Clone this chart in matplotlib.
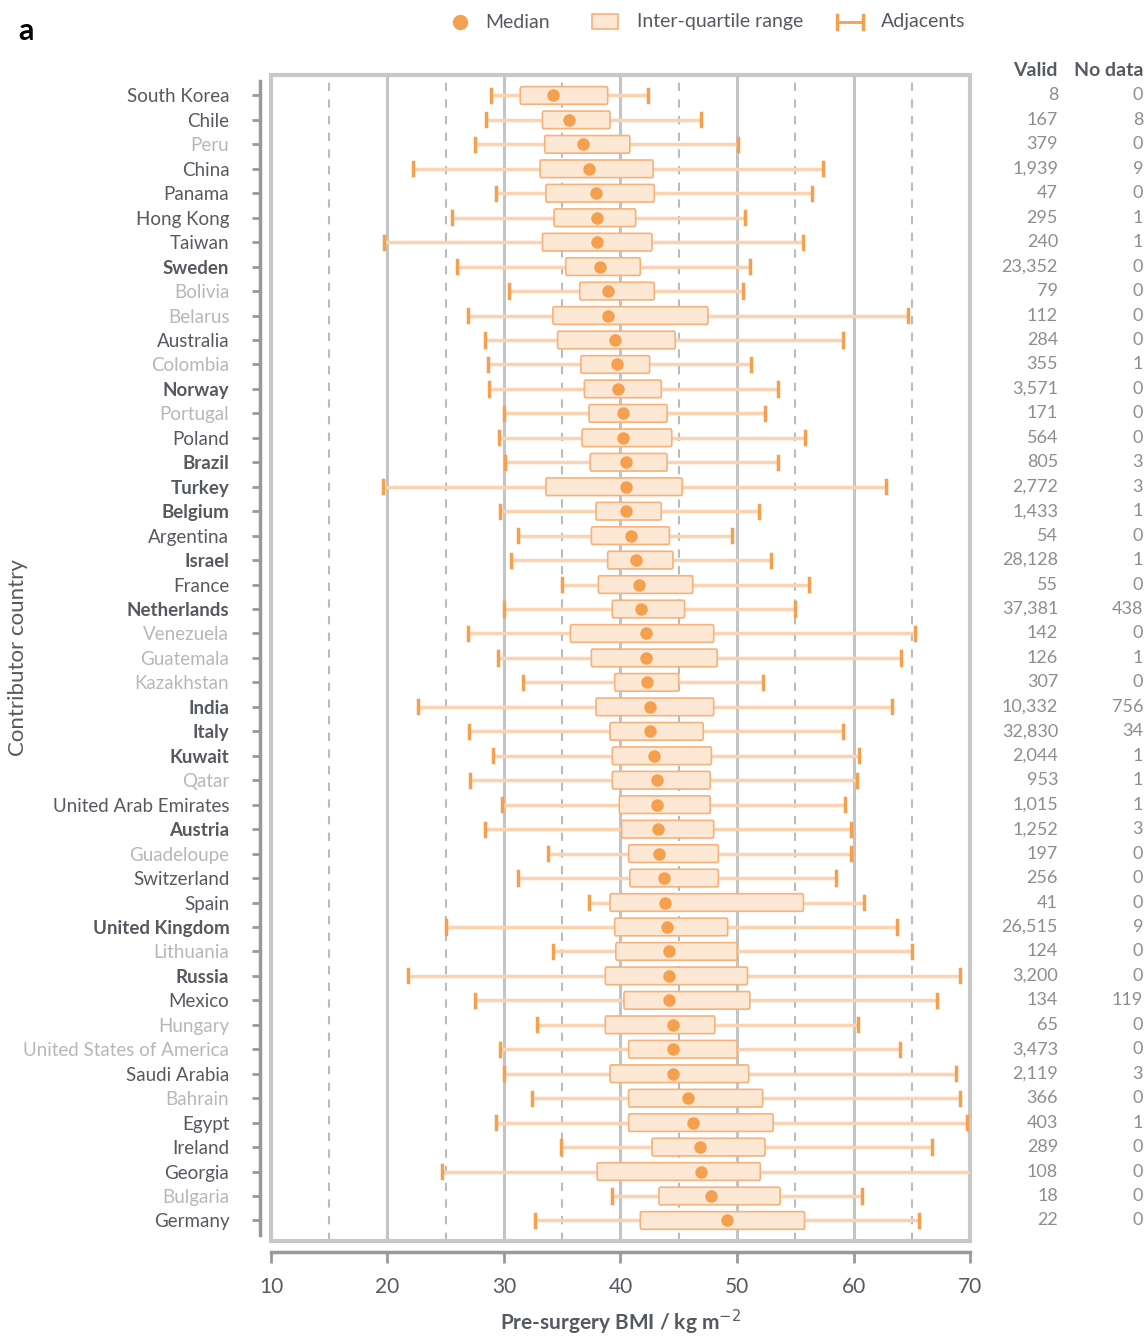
import matplotlib
matplotlib.use("Agg")
import matplotlib.pyplot as plt
from matplotlib.patches import Rectangle, FancyBboxPatch
from matplotlib.lines import Line2D

countries = ["South Korea","Chile","Peru","China","Panama","Hong Kong","Taiwan","Sweden","Bolivia","Belarus",
 "Australia","Colombia","Norway","Portugal","Poland","Brazil","Turkey","Belgium","Argentina","Israel",
 "France","Netherlands","Venezuela","Guatemala","Kazakhstan","India","Italy","Kuwait","Qatar","United Arab Emirates",
 "Austria","Guadeloupe","Switzerland","Spain","United Kingdom","Lithuania","Russia","Mexico","Hungary","United States of America",
 "Saudi Arabia","Bahrain","Egypt","Ireland","Georgia","Bulgaria","Germany"]
low = [28.9,28.5,27.5,22.2,29.3,25.5,19.7,26.0,30.4,26.9,28.4,28.6,28.7,30.0,29.6,30.1,19.6,29.7,31.2,30.6,
 35.0,30.0,26.9,29.5,31.6,22.6,27.0,29.1,27.1,29.8,28.4,33.8,31.2,37.3,25.0,34.2,21.8,27.5,32.8,29.7,
 30.0,32.4,29.3,34.9,24.7,39.3,32.7]
q1 = [31.4,33.3,33.5,33.1,33.6,34.3,33.3,35.3,36.5,34.2,34.6,36.6,36.9,37.3,36.7,37.4,33.6,37.9,37.5,38.9,
 38.1,39.3,35.7,37.5,39.5,37.9,39.1,39.3,39.3,39.9,40.1,40.7,40.8,39.1,39.5,39.6,38.7,40.3,38.7,40.7,
 39.1,40.7,40.7,42.7,38.0,43.3,41.7]
med = [34.2,35.6,36.8,37.3,37.9,38.0,38.0,38.2,38.9,38.9,39.5,39.7,39.8,40.2,40.2,40.5,40.5,40.5,40.9,41.3,
 41.6,41.8,42.2,42.2,42.3,42.5,42.5,42.9,43.1,43.1,43.2,43.3,43.7,43.8,44.0,44.2,44.2,44.2,44.5,44.5,
 44.5,45.8,46.2,46.8,46.9,47.8,49.1]
q3 = [38.9,39.1,40.8,42.8,42.9,41.3,42.7,41.7,42.9,47.5,44.7,42.5,43.5,44.0,44.4,44.0,45.3,43.5,44.2,44.5,
 46.2,45.5,48.0,48.3,45.0,48.0,47.1,47.8,47.7,47.7,48.0,48.4,48.4,55.7,49.2,50.0,50.9,51.1,48.1,50.0,
 51.0,52.2,53.1,52.4,52.0,53.7,55.8]
high = [42.4,46.9,50.1,57.4,56.4,50.7,55.7,51.1,50.5,64.7,59.1,51.2,53.5,52.4,55.8,53.5,62.8,51.9,49.6,52.9,
 56.2,55.0,65.3,64.1,52.2,63.3,59.1,60.5,60.3,59.3,59.8,59.8,58.5,60.9,63.7,65.0,69.1,67.2,60.4,64.0,
 68.8,69.1,69.7,66.7,70.5,60.7,65.6]
valid = ["8","167","379","1,939","47","295","240","23,352","79","112","284","355","3,571","171","564","805","2,772",
 "1,433","54","28,128","55","37,381","142","126","307","10,332","32,830","2,044","953","1,015","1,252","197","256",
 "41","26,515","124","3,200","134","65","3,473","2,119","366","403","289","108","18","22"]
nodata = ["0","8","0","9","0","1","1","0","0","0","0","1","0","0","0","3","3","1","0","1","0","438","0","1","0",
 "756","34","1","1","1","3","0","0","0","9","0","0","119","0","0","3","0","1","0","0","0","0"]
bold = {"Sweden","Norway","Brazil","Turkey","Belgium","Israel","Netherlands","India","Italy","Kuwait","Austria",
 "United Kingdom","Russia"}
light = {"Peru","Bolivia","Belarus","Colombia","Portugal","Venezuela","Guatemala","Kazakhstan","Qatar","Guadeloupe",
 "Lithuania","Hungary","United States of America","Bulgaria","Bahrain"}
xticks = [10,20,30,40,50,60,70]

plt.rcParams['font.family'] = ['Lato', 'DejaVu Sans']
ORANGE = "#f4a04e"
FILL = "#fde8d6"
EDGE = "#f6b27a"
WH = "#fcd3b2"
DARK = "#555a60"
LIGHT = "#b4b8bc"

fig = plt.figure(figsize=(11.48, 13.4), dpi=100)
ax = fig.add_axes([0.236, 0.074, 0.609, 0.870])
n = len(countries)
ax.set_xlim(10, 70)
ax.set_ylim(n - 1 + 20/24, -20/24)

for v in [15, 25, 35, 45, 55, 65]:
    ax.axvline(v, color="#bbbbbb", lw=1.5, ls=(0, (4, 4)), zorder=0)
for v in [20, 30, 40, 50, 60]:
    ax.axvline(v, color="#c4c4c4", lw=2.2, zorder=0)
ax.add_patch(Rectangle((0, 0), 1, 1, transform=ax.transAxes, fill=False, ec="#c8c8c8", lw=3, zorder=1, clip_on=False))

h = 0.72
for i in range(n):
    ax.plot([low[i], min(high[i], 70)], [i, i], color=WH, lw=2.5, zorder=2, solid_capstyle='butt')
    for xv in (low[i], high[i]):
        if xv <= 70:
            ax.plot([xv, xv], [i - 0.27, i + 0.27], color=ORANGE, lw=2.5, zorder=3)
    ax.add_patch(FancyBboxPatch((q1[i], i - h/2), q3[i] - q1[i], h, boxstyle="round,pad=0,rounding_size=0.1",
                                fc=FILL, ec=EDGE, lw=1.2, zorder=4, mutation_aspect=1))
    ax.plot(med[i], i, 'o', color=ORANGE, ms=9, zorder=5, mec='none')

for s in ['top', 'right']:
    ax.spines[s].set_visible(False)
ax.spines['left'].set_position(('outward', 8))
ax.spines['bottom'].set_position(('outward', 8))
ax.spines['left'].set_color("#999999"); ax.spines['left'].set_linewidth(2.5)
ax.spines['bottom'].set_color("#999999"); ax.spines['bottom'].set_linewidth(2.5)
ax.spines['left'].set_bounds(-0.6, n - 1 + 0.6)
ax.tick_params(axis='y', length=6, width=2, color="#999999", pad=16)
ax.tick_params(axis='x', length=8, width=2, color="#999999", pad=10)

ax.set_yticks(range(n))
ax.set_yticklabels(countries, fontsize=13.5)
for lab, c in zip(ax.get_yticklabels(), countries):
    if c in bold:
        lab.set_fontweight('bold'); lab.set_color(DARK)
    elif c in light:
        lab.set_color(LIGHT)
    else:
        lab.set_color(DARK)
ax.set_xticks(xticks)
ax.set_xticklabels([str(t) for t in xticks], fontsize=15, color=DARK)
ax.set_xlabel("Pre-surgery BMI / kg m$^{-2}$", fontsize=15, color=DARK, fontweight='bold', labelpad=8)
ax.set_ylabel("Contributor country", fontsize=16, color=DARK)
ax.yaxis.set_label_coords(-0.348, 0.5)

tr = ax.get_yaxis_transform()
xv_, xn_ = (1058 - 271) / 699, (1143 - 271) / 699
for i in range(n):
    ax.text(xv_, i, valid[i], transform=tr, ha='right', va='center', fontsize=13, color="#8a8e92")
    ax.text(xn_, i, nodata[i], transform=tr, ha='right', va='center', fontsize=13, color="#8a8e92")
ax.text(xv_, -1.0, "Valid", transform=tr, ha='right', va='center', fontsize=14, color=DARK, fontweight='bold')
ax.text(xn_, -1.0, "No data", transform=tr, ha='right', va='center', fontsize=14, color=DARK, fontweight='bold')

fig.text(0.016, 0.977, "a", fontsize=22, fontweight='bold', va='center')
ly = 1 - 22/1340
fig.add_artist(Line2D([460/1148], [ly], marker='o', color=ORANGE, ms=11, mec='none'))
fig.text(485/1148, ly, "Median", fontsize=14, color=DARK, va='center')
fig.add_artist(Rectangle((592/1148, ly - 7/1340), 26/1148, 15/1340, fc=FILL, ec=EDGE, lw=1.2))
fig.text(637/1148, ly, "Inter-quartile range", fontsize=14, color=DARK, va='center')
fig.add_artist(Line2D([837/1148, 863/1148], [ly, ly], color=ORANGE, lw=2))
fig.add_artist(Line2D([837/1148, 837/1148], [ly - 7/1340, ly + 7/1340], color=ORANGE, lw=2.5))
fig.add_artist(Line2D([863/1148, 863/1148], [ly - 7/1340, ly + 7/1340], color=ORANGE, lw=2.5))
fig.text(881/1148, ly, "Adjacents", fontsize=14, color=DARK, va='center')

fig.savefig("out.png", dpi=100)
